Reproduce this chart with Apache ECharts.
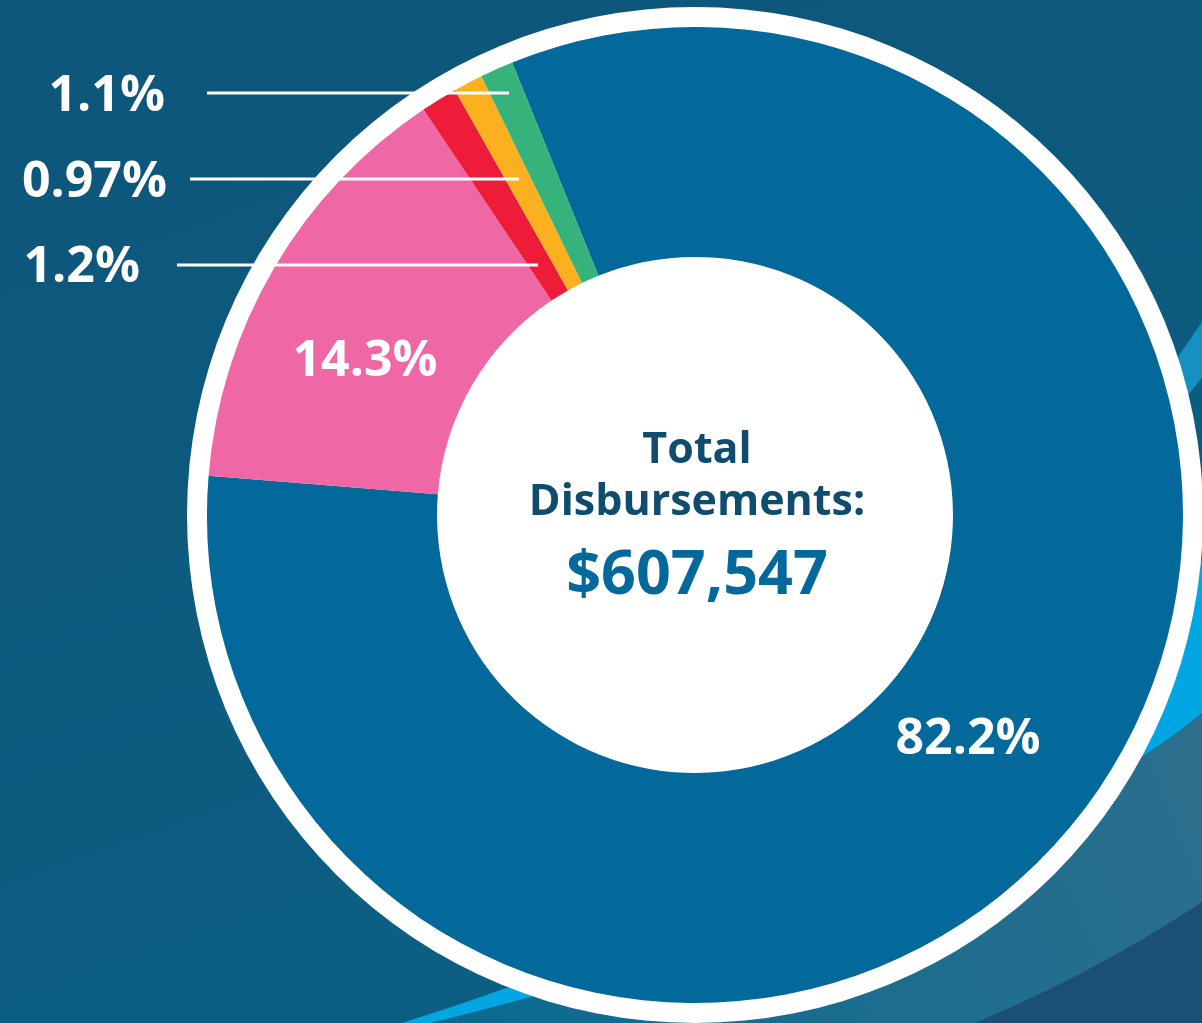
<!DOCTYPE html>
<html>
<head>
<meta charset="utf-8">
<title>Total Disbursements</title>
<script src="https://cdn.jsdelivr.net/npm/echarts@6/dist/echarts.min.js"></script>
<style>
  html, body { margin: 0; padding: 0; background: #0e5a7e; }
  #chart { width: 1202px; height: 1023px; }
</style>
</head>
<body>
<div id="chart"></div>
<script>
// slice values (percent of total), clockwise from the top
var shareValues = [82.2, 14.3, 1.2, 0.97, 1.1];
var shareColors = ['#03689a', '#f067a6', '#ed1c39', '#fcb020', '#36b37b'];
var totalLabel = ['Total', 'Disbursements:'];
var totalAmount = '$607,547';

var CX = 695, CY = 515;
var FONT = '"Open Sans", Lato, sans-serif';

// label placement: inside ones get an x/y, the thin slices get a leader line
var labelPos = {
	0: { x: 968, y: 740 },
	1: { x: 365, y: 362 },
	2: { x: 140, y: 268, lineY: 265, lineFrom: 177, lineTo: 538 },
	3: { x: 167, y: 183, lineY: 179, lineFrom: 190, lineTo: 519 },
	4: { x: 165, y: 97, lineY: 93, lineFrom: 207, lineTo: 509 }
};

function grad(x, y, x2, y2, c1, c2) {
	return { type: 'linear', x: x, y: y, x2: x2, y2: y2,
		colorStops: [{ offset: 0, color: c1 }, { offset: 1, color: c2 }] };
}

// sample a quadratic curve into polygon points (background decoration only)
function quad(p0, c, p1) {
	var pts = [];
	for (var t = 0; t <= 1.0001; t += 0.05) {
		var a = (1 - t) * (1 - t), b = 2 * (1 - t) * t, d = t * t;
		pts.push([a * p0[0] + b * c[0] + d * p1[0], a * p0[1] + b * c[1] + d * p1[1]]);
	}
	return pts;
}

function initChart() {
	var myChart = echarts.init(document.getElementById('chart'));

	var sliceData = shareValues.map(function (v, i) {
		return { value: v, itemStyle: { color: shareColors[i] } };
	});
	// same values again, invisible sectors, so that labels + leader lines sit on top
	var labelData = shareValues.map(function (v, i) {
		var small = i >= 2;
		return {
			value: v,
			label: { position: small ? 'outside' : 'inside' },
			labelLine: { show: small }
		};
	});

	var pieBase = {
		type: 'pie',
		center: [CX, CY],
		radius: [258, 488],
		startAngle: 112,
		clockwise: true,
		silent: true,
		avoidLabelOverlap: false
	};

	var option = {
		animation: false,
		graphic: [
			{
				type: 'rect', z: 0,
				shape: { x: 0, y: 0, width: 1202, height: 1023 },
				style: { fill: grad(0, 0, 0.3, 1, '#0e557a', '#0c5f83') }
			},
			// decorative swooshes right and bottom
			{
				type: 'polygon', z: 0,
				shape: { points: [[1202, 322], [1100, 470], [1100, 500], [1202, 378]] },
				style: { fill: '#1590c0' }
			},
			{
				type: 'polygon', z: 0,
				shape: { points: quad([1202, 560], [950, 850], [402, 1023]).concat(quad([431, 1023], [1000, 880], [1202, 713])) },
				style: { fill: '#02a6e2' }
			},
			{
				type: 'polygon', z: 0,
				shape: { points: quad([1202, 713], [1000, 880], [431, 1023]).concat([[1202, 1023]]) },
				style: { fill: grad(1, 0, 0, 1, '#2c6f8c', '#0b6a90') }
			},
			{
				type: 'polygon', z: 0,
				shape: { points: quad([1202, 902], [1100, 970], [975, 1023]).concat([[1202, 1023]]) },
				style: { fill: '#1b4f74' }
			},
			// white outer ring (also fills the hole)
			{
				type: 'circle', z: 1,
				shape: { cx: CX, cy: CY, r: 508 },
				style: { fill: '#ffffff' }
			},
			{
				type: 'text', z: 10, x: CX + 2, y: 451,
				style: {
					text: totalLabel[0], align: 'center', verticalAlign: 'middle',
					fill: '#0f4c6e', fontSize: 43, fontWeight: 'bold', fontFamily: FONT
				}
			},
			{
				type: 'text', z: 10, x: CX + 2, y: 503,
				style: {
					text: totalLabel[1], align: 'center', verticalAlign: 'middle',
					fill: '#0f4c6e', fontSize: 43, fontWeight: 'bold', fontFamily: FONT
				}
			},
			{
				type: 'text', z: 10, x: CX + 2, y: 577,
				style: {
					text: totalAmount, align: 'center', verticalAlign: 'middle',
					fill: '#03689a', fontSize: 61, fontWeight: 'bold', fontFamily: FONT
				}
			}
		],
		series: [
			echarts.util.merge({
				z: 3,
				label: { show: false },
				labelLine: { show: false },
				data: sliceData
			}, pieBase),
			echarts.util.merge({
				z: 5,
				itemStyle: { color: 'rgba(0,0,0,0)' },
				label: {
					show: true,
					color: '#ffffff',
					fontSize: 50,
					fontWeight: 'bold',
					fontFamily: FONT,
					formatter: function (p) { return p.value + '%'; }
				},
				labelLine: {
					lineStyle: { color: '#ffffff', width: 3 }
				},
				labelLayout: function (params) {
					var p = labelPos[params.dataIndex];
					var out = { x: p.x, y: p.y, verticalAlign: 'middle' };
					if (p.lineY) {
						out.align = 'right';
						out.labelLinePoints = [[p.lineTo, p.lineY], [p.lineTo, p.lineY], [p.lineFrom, p.lineY]];
					} else {
						out.align = 'center';
					}
					return out;
				},
				data: labelData
			}, pieBase)
		]
	};
	myChart.setOption(option);
}

initChart();
</script>
</body>
</html>
